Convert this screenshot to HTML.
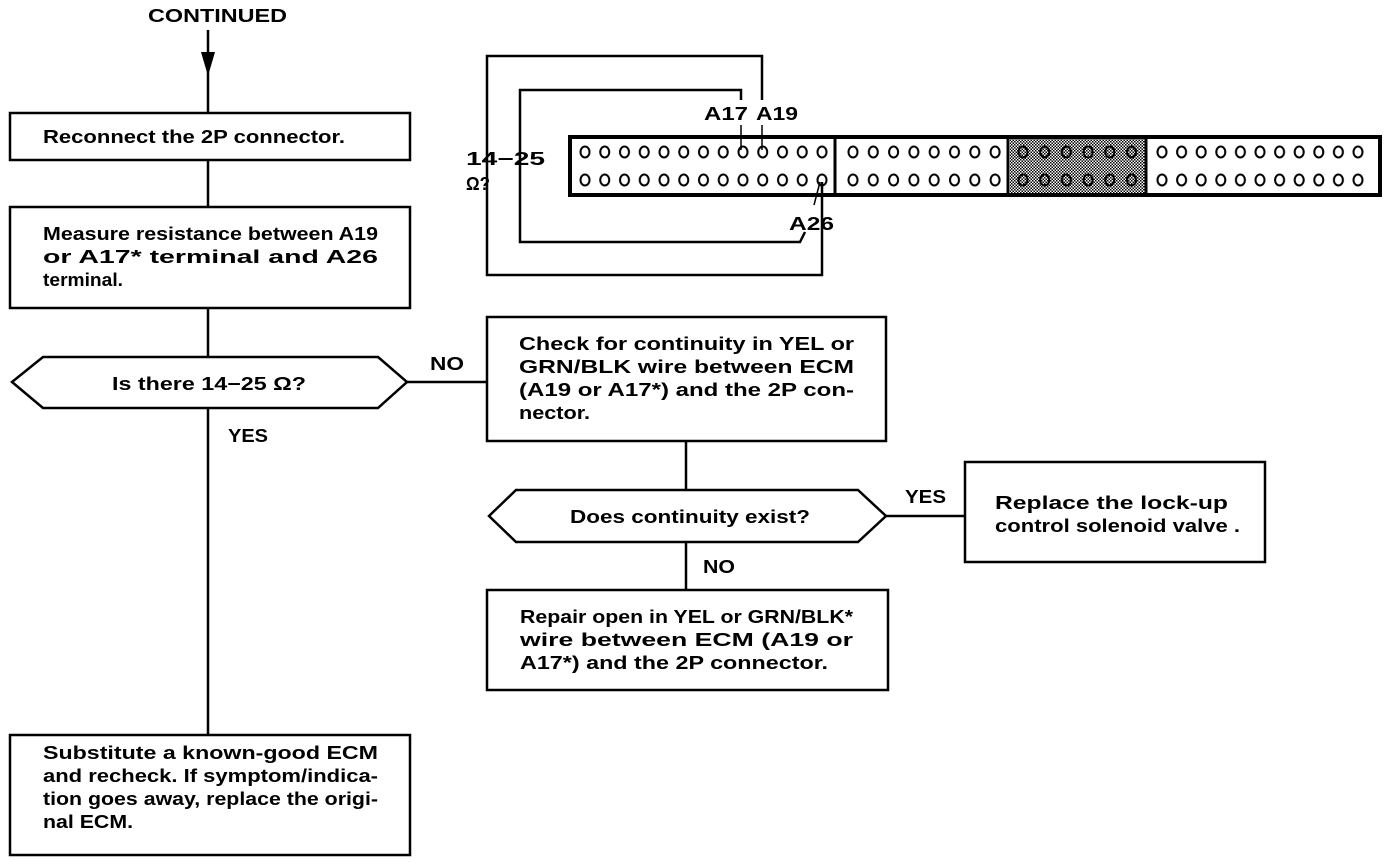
<!DOCTYPE html>
<html><head><meta charset="utf-8"><style>
html,body{margin:0;padding:0;background:#fff;}
svg{display:block;}
text{font-family:"Liberation Sans",sans-serif;font-weight:bold;font-size:18px;fill:#000;}
</style></head><body>
<svg width="1392" height="862" viewBox="0 0 1392 862" xmlns="http://www.w3.org/2000/svg">
<defs>
<pattern id="c1" x="575" y="138" width="19.75" height="28" patternUnits="userSpaceOnUse"><ellipse cx="10" cy="14" rx="4.5" ry="5.5" fill="none" stroke="#000" stroke-width="2"/></pattern>
<pattern id="c2" x="843" y="138" width="20.3" height="28" patternUnits="userSpaceOnUse"><ellipse cx="10" cy="14" rx="4.5" ry="5.5" fill="none" stroke="#000" stroke-width="2"/></pattern>
<pattern id="c3" x="1012" y="138" width="21.7" height="28" patternUnits="userSpaceOnUse"><ellipse cx="11" cy="14" rx="4.5" ry="5.5" fill="none" stroke="#000" stroke-width="2"/></pattern>
<pattern id="c4" x="1152" y="138" width="19.6" height="28" patternUnits="userSpaceOnUse"><ellipse cx="10" cy="14" rx="4.5" ry="5.5" fill="none" stroke="#000" stroke-width="2"/></pattern>
<pattern id="sh" width="3" height="3" patternUnits="userSpaceOnUse"><rect width="3" height="3" fill="#fff"/><rect width="1.5" height="1.5" fill="#000"/><rect x="1.5" y="1.5" width="1.5" height="1.5" fill="#000"/></pattern>
</defs>
<g stroke="#000" stroke-width="2.5" fill="none">
<line x1="208" y1="30" x2="208" y2="113"/>
<line x1="208" y1="160" x2="208" y2="207"/>
<line x1="208" y1="308" x2="208" y2="357"/>
<line x1="208" y1="408" x2="208" y2="735"/>
<rect x="10" y="113" width="400" height="47"/>
<rect x="10" y="207" width="400" height="101"/>
<polygon points="12,382 43,357 378,357 407,382 378,408 43,408"/>
<rect x="10" y="735" width="400" height="120"/>
<line x1="407" y1="382" x2="487" y2="382"/>
<rect x="487" y="317" width="399" height="124"/>
<line x1="686" y1="441" x2="686" y2="490"/>
<polygon points="489,516 516,490 858,490 886,516 858,542 516,542"/>
<line x1="886" y1="516" x2="965" y2="516"/>
<rect x="965" y="462" width="300" height="100"/>
<line x1="686" y1="542" x2="686" y2="590"/>
<rect x="487" y="590" width="401" height="100"/>
<polyline points="762,100 762,56 487,56 487,275 822,275 822,182"/>
<polyline points="741,100 741,90 520,90 520,242 800,242 805,232"/>
<line x1="741" y1="125" x2="741" y2="150" stroke-width="1.5"/>
<line x1="762" y1="125" x2="762" y2="150" stroke-width="1.5"/>
<line x1="814" y1="205" x2="820" y2="182" stroke-width="1.5"/>
</g>
<polygon points="201,52 215,52 208,76" fill="#000"/>
<rect x="1010" y="137" width="135" height="58" fill="url(#sh)"/>
<rect x="575" y="138" width="257" height="56" fill="url(#c1)"/>
<rect x="843" y="138" width="162" height="56" fill="url(#c2)"/>
<rect x="1012" y="138" width="130" height="56" fill="url(#c3)"/>
<rect x="1152" y="138" width="216" height="56" fill="url(#c4)"/>
<g stroke="#000" fill="none">
<rect x="570" y="137" width="810" height="58" stroke-width="4"/>
<line x1="835" y1="137" x2="835" y2="195" stroke-width="3"/>
<line x1="1008" y1="137" x2="1008" y2="195" stroke-width="3"/>
<line x1="1146" y1="137" x2="1146" y2="195" stroke-width="3"/>
</g>
<g lengthAdjust="spacingAndGlyphs">
<text x="148" y="22" textLength="139" lengthAdjust="spacingAndGlyphs">CONTINUED</text>
<text x="43" y="143" textLength="302" lengthAdjust="spacingAndGlyphs">Reconnect the 2P connector.</text>
<text x="43" y="240" textLength="335" lengthAdjust="spacingAndGlyphs">Measure resistance between A19</text>
<text x="43" y="263" textLength="335" lengthAdjust="spacingAndGlyphs">or  A17*  terminal  and  A26</text>
<text x="43" y="286" textLength="80" lengthAdjust="spacingAndGlyphs">terminal.</text>
<text x="112" y="390" textLength="194" lengthAdjust="spacingAndGlyphs">Is there 14−25 Ω?</text>
<text x="228" y="442" textLength="40" lengthAdjust="spacingAndGlyphs">YES</text>
<text x="430" y="370" textLength="34" lengthAdjust="spacingAndGlyphs">NO</text>
<text x="43" y="759" textLength="335" lengthAdjust="spacingAndGlyphs">Substitute a known-good ECM</text>
<text x="43" y="782" textLength="335" lengthAdjust="spacingAndGlyphs">and recheck. If symptom/indica-</text>
<text x="43" y="805" textLength="335" lengthAdjust="spacingAndGlyphs">tion goes away, replace the origi-</text>
<text x="43" y="828" textLength="90" lengthAdjust="spacingAndGlyphs">nal ECM.</text>
<text x="519" y="350" textLength="335" lengthAdjust="spacingAndGlyphs">Check for continuity in YEL or</text>
<text x="519" y="373" textLength="335" lengthAdjust="spacingAndGlyphs">GRN/BLK  wire  between  ECM</text>
<text x="519" y="396" textLength="335" lengthAdjust="spacingAndGlyphs">(A19 or A17*) and the 2P con-</text>
<text x="519" y="419" textLength="71" lengthAdjust="spacingAndGlyphs">nector.</text>
<text x="570" y="523" textLength="240" lengthAdjust="spacingAndGlyphs">Does continuity exist?</text>
<text x="905" y="503" textLength="41" lengthAdjust="spacingAndGlyphs">YES</text>
<text x="995" y="509" textLength="233" lengthAdjust="spacingAndGlyphs">Replace  the  lock-up</text>
<text x="995" y="532" textLength="245" lengthAdjust="spacingAndGlyphs">control solenoid valve .</text>
<text x="703" y="573" textLength="32" lengthAdjust="spacingAndGlyphs">NO</text>
<text x="520" y="623" textLength="333" lengthAdjust="spacingAndGlyphs">Repair open in YEL or GRN/BLK*</text>
<text x="520" y="646" textLength="333" lengthAdjust="spacingAndGlyphs">wire  between  ECM  (A19  or</text>
<text x="520" y="669" textLength="308" lengthAdjust="spacingAndGlyphs">A17*) and the 2P connector.</text>
<text x="704" y="120" textLength="44" lengthAdjust="spacingAndGlyphs">A17</text>
<text x="756" y="120" textLength="42" lengthAdjust="spacingAndGlyphs">A19</text>
<text x="789" y="230" textLength="45" lengthAdjust="spacingAndGlyphs">A26</text>
<text x="466" y="165" textLength="79" lengthAdjust="spacingAndGlyphs">14−25</text>
<text x="466" y="190" textLength="24" lengthAdjust="spacingAndGlyphs">Ω?</text>
</g>
</svg>
</body></html>
